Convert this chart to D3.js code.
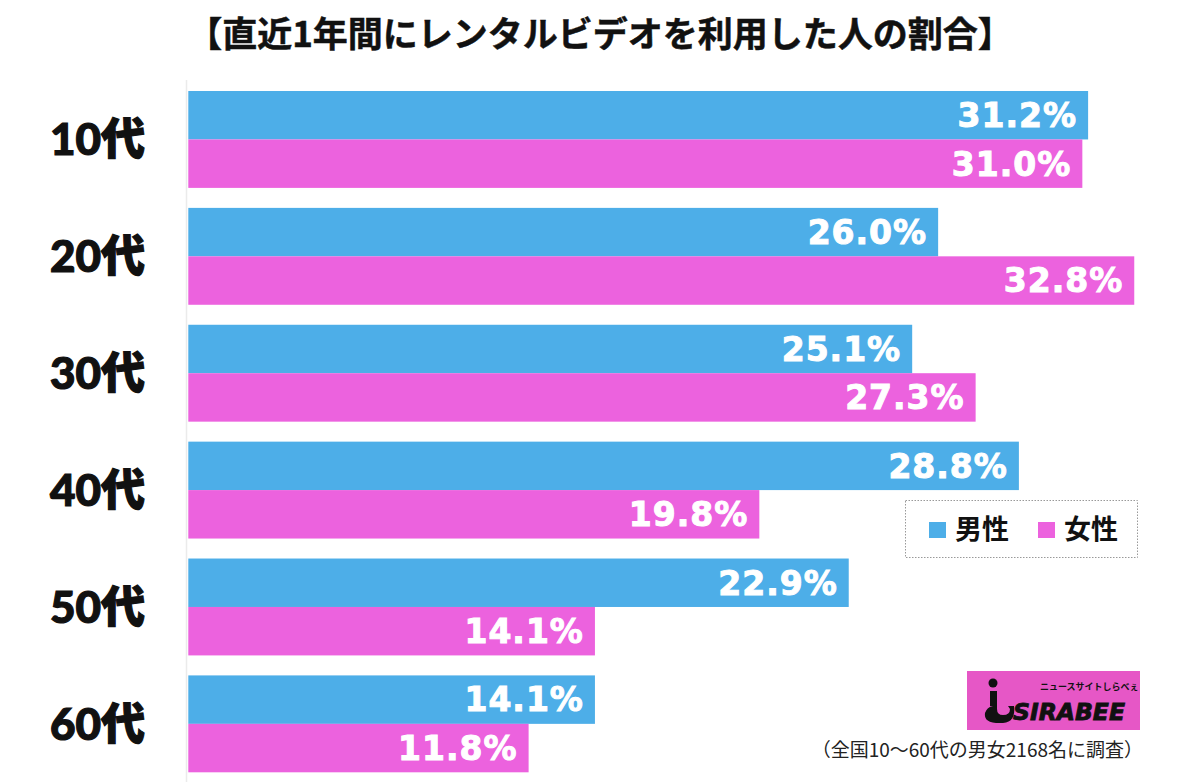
<!DOCTYPE html>
<html><head><meta charset="utf-8">
<script src="https://cdn.jsdelivr.net/npm/d3@7"></script>
<style>
html,body{margin:0;padding:0;background:#fff;}
svg{display:block;}
</style></head>
<body>
<svg id="chart" width="1200" height="782"></svg>
<script>
const title = "【直近1年間にレンタルビデオを利用した人の割合】";
const categories = ["10代","20代","30代","40代","50代","60代"];
const seriesNames = ["男性","女性"];
const male   = [31.2, 26.0, 25.1, 28.8, 22.9, 14.1];
const female = [31.0, 32.8, 27.3, 19.8, 14.1, 11.8];
const footnote = "（全国10〜60代の男女2168名に調査）";
const colors = ["#4DAEE8", "#EC62DE"];

const svg = d3.select("#chart");
const data = categories.map((c,i)=>({cat:c, values:[{s:seriesNames[0],v:male[i]},{s:seriesNames[1],v:female[i]}]}));

const x = d3.scaleLinear().domain([0,35]).range([188.3, 188.3+35*28.84]);
const y = d3.scaleBand().domain(categories).range([91,772.3]).paddingInner(0.171).paddingOuter(0);
const ys = d3.scaleBand().domain(seriesNames).range([0, y.bandwidth()]);
const color = d3.scaleOrdinal().domain(seriesNames).range(colors);

// title
svg.append("text").attr("x",600).attr("y",47).attr("text-anchor","middle")
  .style("font-family","'Noto Sans CJK JP'").style("font-weight",700).style("font-size","35px")
  .attr("fill","#111").attr("stroke","#111").attr("stroke-width",0.5).text(title);

// faint axis line
svg.append("line").attr("x1",186.5).attr("x2",186.5).attr("y1",80).attr("y2",782)
  .attr("stroke","#ebebeb").attr("stroke-width",1.5);

// category axis
const yAxis = svg.append("g").attr("transform","translate(186,0)")
  .call(d3.axisLeft(y).tickSize(0).tickPadding(41));
yAxis.select(".domain").remove();
yAxis.selectAll("text")
  .style("font-family","Lato, 'Noto Sans CJK JP'").style("font-weight",900).style("font-size","44px")
  .attr("fill","#111").attr("stroke","#111").attr("stroke-width",1.2).attr("dy","0.36em");

// bars
const g = svg.append("g").selectAll("g").data(data).join("g")
  .attr("transform",d=>`translate(0,${y(d.cat)})`);
g.selectAll("rect").data(d=>d.values).join("rect")
  .attr("x",x(0)).attr("y",d=>ys(d.s)).attr("width",d=>x(d.v)-x(0)).attr("height",ys.bandwidth())
  .attr("fill",d=>color(d.s));
g.selectAll("text").data(d=>d.values).join("text")
  .attr("x",d=>x(d.v)-11).attr("y",d=>ys(d.s)+ys.bandwidth()/2).attr("dy","0.36em")
  .attr("text-anchor","end")
  .style("font-family","'DejaVu Sans'").style("font-weight",700).style("font-size","33px")
  .style("letter-spacing","1px")
  .attr("fill","#fff").attr("stroke","#fff").attr("stroke-width",1)
  .text(d=>d.v.toFixed(1)+"%");

// legend
const lg = svg.append("g");
lg.append("rect").attr("x",905.5).attr("y",500.5).attr("width",232).attr("height",57)
  .attr("fill","#fff").attr("stroke","#999").attr("stroke-dasharray","1.5,1.5");
const lgx = [929, 1038];
seriesNames.forEach((s,i)=>{
  lg.append("rect").attr("x",lgx[i]).attr("y",522).attr("width",17).attr("height",16).attr("fill",color(s));
  lg.append("text").attr("x",lgx[i]+26).attr("y",539)
    .style("font-family","'Noto Sans CJK JP'").style("font-weight",700).style("font-size","27px")
    .attr("fill","#111").text(s);
});

// logo
const logo = svg.append("g");
logo.append("rect").attr("x",967).attr("y",671).attr("width",173).attr("height",59).attr("fill","#E657C6");
logo.append("circle").attr("cx",993).attr("cy",683).attr("r",4.5).attr("fill","#111");
logo.append("path").attr("d","M990,691 L997,691 L997,709 Q997,715 1003,715 Q1010,715 1010,709 L1008,706 L1014,706 Q1016,722 1003,723 Q983,724 985,713 Q987,707 993,706 L990,706 Z")
  .attr("fill","#111");
logo.append("text").attr("x",1013).attr("y",720)
  .style("font-family","'Liberation Sans Narrow', 'DejaVu Sans Condensed', sans-serif").style("font-weight",700).style("font-style","italic").style("font-size","23px")
  .attr("textLength",112).attr("lengthAdjust","spacingAndGlyphs")
  .attr("fill","#111").attr("stroke","#111").attr("stroke-width",0.8).text("SIRABEE");
logo.append("text").attr("x",1040).attr("y",690)
  .style("font-family","'Noto Sans CJK JP'").style("font-weight",700).style("font-size","9px")
  .attr("fill","#111").text("ニュースサイトしらべぇ");

// footnote
svg.append("text").attr("x",1143).attr("y",757).attr("text-anchor","end")
  .style("font-family","'Noto Sans CJK JP'").style("font-weight",400).style("font-size","19px")
  .attr("fill","#222").text(footnote);
</script>
</body></html>
